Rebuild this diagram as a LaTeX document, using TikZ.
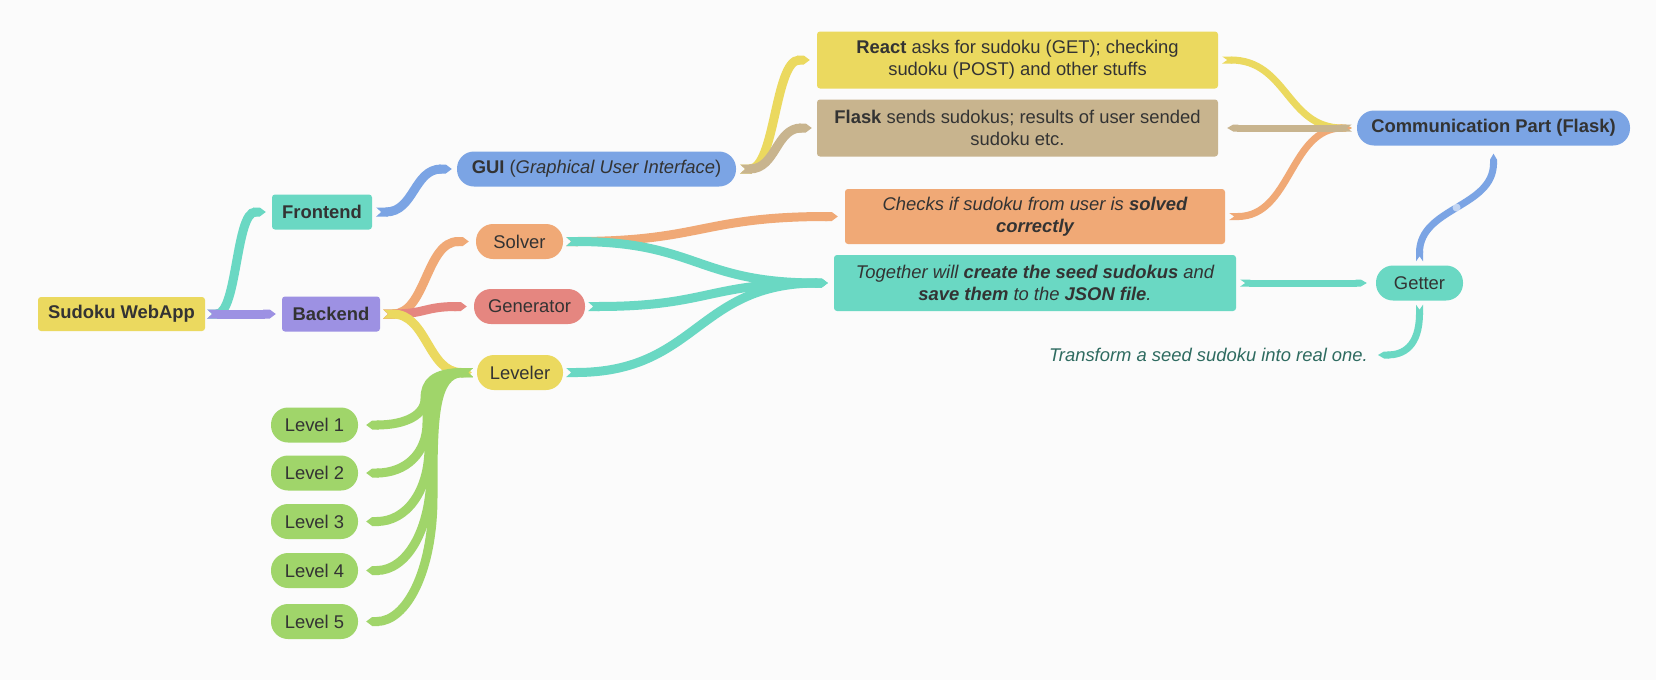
\documentclass[tikz,border=0pt]{standalone}
\usepackage{fontspec}
\setmainfont{Liberation Sans}
\usetikzlibrary{arrows.meta,calc}
\pgfdeclarelayer{background}
\pgfsetlayers{background,main}
\definecolor{bgc}{RGB}{251,251,251}
\definecolor{cyel}{RGB}{235,217,95}
\definecolor{cteal}{RGB}{106,216,195}
\definecolor{cpurp}{RGB}{157,145,227}
\definecolor{cblue}{RGB}{123,164,228}
\definecolor{corange}{RGB}{240,169,118}
\definecolor{cred}{RGB}{229,134,128}
\definecolor{ctan}{RGB}{200,180,142}
\definecolor{cgreen}{RGB}{160,213,106}
\definecolor{ctext}{RGB}{51,51,51}
\definecolor{ctrans}{RGB}{46,107,96}
\begin{document}
\begin{tikzpicture}[x=1pt,y=-1pt,
  base/.style={inner sep=0pt, font=\fontsize{18.4}{22}\selectfont, text=ctext, align=center},
  bf/.style={font=\fontsize{18.4}{22}\selectfont\bfseries},
  it/.style={font=\fontsize{18.4}{22}\selectfont\itshape},
  sq/.style={base, rounded corners=3pt},
  pill/.style={base, rounded corners=17pt, minimum height=35pt},
  rib/.style={line width=9pt, {Triangle Cap[reversed,length=5pt]}-{Triangle Cap[length=6pt]}},
  thinrib/.style={rib, line width=7pt},
]
\useasboundingbox (0,0) rectangle (1656,680);
% nodes
\node[sq, bf, fill=cyel, minimum width=167pt, minimum height=34pt] (web) at (121.5,314) {Sudoku WebApp};
\node[sq, bf, fill=cteal, minimum width=100pt, minimum height=35pt] (front) at (322,212) {Frontend};
\node[sq, bf, fill=cpurp, minimum width=98pt, minimum height=35pt] (back) at (331,314) {Backend};
\node[pill, fill=cblue, minimum width=279pt] (gui) at (596.5,169) {\textbf{GUI} (\textit{Graphical User Interface})};
\node[pill, fill=corange, minimum width=87pt] (solver) at (519.5,241.5) {Solver};
\node[pill, fill=cred, minimum width=111pt] (gen) at (529.5,306.5) {Generator};
\node[pill, fill=cyel, minimum width=86pt] (lev) at (520,372.5) {Leveler};
\node[pill, fill=cgreen, minimum width=87pt] (l1) at (314.5,425) {Level 1};
\node[pill, fill=cgreen, minimum width=87pt] (l2) at (314.5,473) {Level 2};
\node[pill, fill=cgreen, minimum width=87pt] (l3) at (314.5,521.5) {Level 3};
\node[pill, fill=cgreen, minimum width=87pt] (l4) at (314.5,570.5) {Level 4};
\node[pill, fill=cgreen, minimum width=87pt] (l5) at (314.5,621.5) {Level 5};
\node[sq, fill=cyel, minimum width=401pt, minimum height=57pt] (react) at (1017.5,60) {\textbf{React} asks for sudoku (GET); checking\\sudoku (POST) and other stuffs};
\node[sq, fill=ctan, minimum width=401pt, minimum height=57pt] (flask) at (1017.5,128) {\textbf{Flask} sends sudokus; results of user sended\\sudoku etc.};
\node[sq, it, fill=corange, minimum width=380pt, minimum height=55pt] (checks) at (1035,216.5) {Checks if sudoku from user is \textbf{solved}\\\textbf{correctly}};
\node[sq, it, fill=cteal, minimum width=402pt, minimum height=56pt] (tog) at (1035,283) {Together will \textbf{create the seed sudokus} and\\\textbf{save them} to the \textbf{JSON file}.};
\node[pill, bf, fill=cblue, minimum width=273pt] (comm) at (1493.5,128) {Communication Part (Flask)};
\node[pill, fill=cteal, minimum width=87pt] (getter) at (1419.5,283) {Getter};
\node[base, it, text=ctrans, anchor=east] (trans) at (1368,355) {Transform a seed sudoku into real one.};
% connectors
\begin{pgfonlayer}{background}
\fill[bgc] (0,0) rectangle (1656,680);
\draw[rib, cteal] ($(web.east)+(2,0)$) .. controls +(30,0) and +(-30,0) .. ($(front.west)+(-6,0)$);
\draw[rib, cpurp] ($(web.east)+(2,0)$) -- ($(back.west)+(-6,0)$);
\draw[rib, cblue] ($(front.east)+(4,0)$) .. controls +(38,0) and +(-38,0) .. ($(gui.west)+(-5,0)$);
\draw[rib, corange] ($(back.east)+(3,0)$) .. controls +(43,0) and +(-43,0) .. ($(solver.west)+(-7,0)$);
\draw[rib, cred] ($(back.east)+(3,0)$) .. controls +(42,0) and +(-42,0) .. ($(gen.west)+(-7,0)$);
\draw[rib, cyel] ($(back.east)+(3,0)$) .. controls +(44,0) and +(-44,0) .. ($(lev.west)+(-5,0)$);
\draw[rib, cyel] ($(gui.east)+(4,0)$) .. controls +(35,0) and +(-35,0) .. ($(react.west)+(-7,0)$);
\draw[rib, ctan] ($(gui.east)+(4,0)$) .. controls +(36,0) and +(-36,0) .. ($(flask.west)+(-5,0)$);
\draw[rib, corange] ($(solver.east)+(3,0)$) .. controls +(136,0) and +(-136,0) .. ($(checks.west)+(-7,0)$);
\draw[rib, cteal] ($(solver.east)+(3,0)$) .. controls +(131,0) and +(-131,0) .. ($(tog.west)+(-6,0)$);
\draw[rib, cteal] ($(gen.east)+(3,0)$) .. controls +(120,0) and +(-120,0) .. ($(tog.west)+(-6,0)$);
\draw[rib, cteal] ($(lev.east)+(3,0)$) .. controls +(131,0) and +(-131,0) .. ($(tog.west)+(-6,0)$);
\foreach \l/\tx/\ym/\b in {l1/425/398.75/15.75, l2/427/422.75/30.15, l3/429/447/44.7, l4/431/471.5/59.4, l5/433/497/74.7}{
  \draw[rib, cgreen] ($(lev.west)+(-4,0)$) .. controls +(-40,0) and (\tx,\ym-\b) .. (\tx,\ym)
     .. controls (\tx,\ym+\b) and +(40,0) .. ($(\l.east)+(8,0)$);
}
\draw[thinrib, cteal] ($(tog.east)+(4,0)$) -- ($(getter.west)+(-9,0)$);
\draw[thinrib, cteal] ($(getter.south)+(0,4)$) .. controls +(0,42) and +(25,0) .. ($(trans.east)+(10,0)$);
\draw[thinrib, cblue] ($(getter.north)+(0,-4)$) .. controls +(0,-54) and +(0,54) .. coordinate[pos=.5] (dot) ($(comm.south)+(0,8)$);
\fill[white, opacity=.55] (dot) circle (4);
\draw[thinrib, cyel] ($(react.east)+(4,0)$) .. controls +(65,0) and +(-65,0) .. ($(comm.west)+(-5,0)$);
\draw[thinrib, corange] ($(checks.east)+(4,0)$) .. controls +(62,0) and +(-62,0) .. ($(comm.west)+(-5,0)$);
\draw[thinrib, ctan] ($(comm.west)+(-5,0)$) -- ($(flask.east)+(9,0)$);
\end{pgfonlayer}
\end{tikzpicture}
\end{document}
